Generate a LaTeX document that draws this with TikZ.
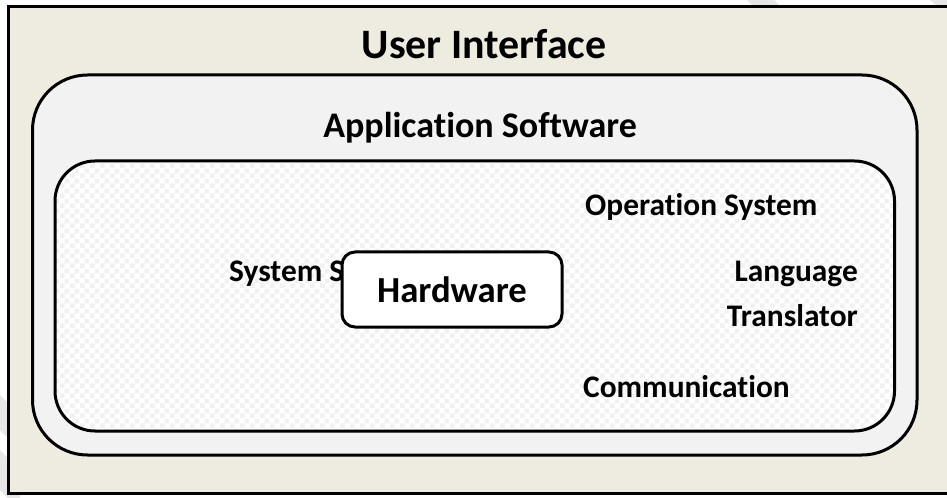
\documentclass[tikz,border=0pt]{standalone}
\usepackage{fontspec}
\setmainfont{Carlito}[Ligatures={NoCommon,NoContextual}]
\usetikzlibrary{patterns}

% faint checkerboard used inside the system-software panel
\pgfdeclarepatternformonly{softchecker}{\pgfpointorigin}{\pgfpoint{10bp}{10bp}}{\pgfpoint{10bp}{10bp}}{%
  \pgfpathrectangle{\pgfpointorigin}{\pgfpoint{5bp}{5bp}}%
  \pgfpathrectangle{\pgfpoint{5bp}{5bp}}{\pgfpoint{5bp}{5bp}}%
  \pgfusepath{fill}}

\definecolor{tanbg}{HTML}{EEEBE0}
\definecolor{panelgray}{HTML}{F2F2F2}
\definecolor{checkgray}{HTML}{F1F1F1}
\definecolor{markgray}{HTML}{E6E6E6}

\tikzset{
  frame/.style={draw=black, line width=3bp},
  lblbig/.style={inner sep=0pt, font=\bfseries\fontsize{41.9bp}{48bp}\selectfont},
  lblmid/.style={inner sep=0pt, font=\bfseries\fontsize{36bp}{42bp}\selectfont},
  lblsmall/.style={inner sep=0pt, font=\bfseries\fontsize{31.4bp}{36bp}\selectfont},
  hwbox/.style={frame, fill=white, rounded corners=13bp, minimum width=220bp,
    minimum height=75bp, inner sep=0pt, font=\bfseries\fontsize{36.7bp}{42bp}\selectfont},
}

\begin{document}
\begin{tikzpicture}[x=1bp,y=-1bp]
  \useasboundingbox (0,0) rectangle (947,498);
  \clip (0,0) rectangle (947,498);
  \fill[white] (0,0) rectangle (947,498);

  % faint diagonal bands showing in the white margin
  \fill[markgray] (745,-2) -- (772,-2) -- (800,26) -- (773,26) -- cycle;
  \fill[markgray] (928,-2) -- (960,-2) -- (960,30) -- cycle;
  \fill[markgray] (-10,385) -- (-10,420) -- (20,450) -- (20,415) -- cycle;
  \fill[markgray] (-10,440) -- (-10,480) -- (20,510) -- (20,470) -- cycle;

  % outer user-interface layer
  \draw[frame, line width=3.3bp, fill=tanbg] (8.3,6.7) rectangle (965,493.3);

  % application-software layer
  \draw[frame, fill=panelgray, rounded corners=55bp] (32.5,75) rectangle (917,455);

  % system-software layer
  \fill[white, rounded corners=40bp] (55,161) rectangle (894.5,431);
  \fill[pattern=softchecker, pattern color=checkgray, rounded corners=40bp]
    (55,161) rectangle (894.5,431);
  \draw[frame, rounded corners=40bp] (55,161) rectangle (894.5,431);

  % labels
  \node[lblbig, anchor=base] (ui) at (484,59) {User Interface};
  \node[lblmid, anchor=base east] (appsw) at (637,138) {Application Software};
  \node[lblsmall, anchor=base west] (syssw) at (229,282) {System Software};
  \node[lblsmall, anchor=base west] (opsys) at (585,216) {Operation System};
  \node[lblsmall, anchor=base east] (lang) at (858,282) {Language};
  \node[lblsmall, anchor=base east] (transl) at (858,327) {Translator};
  \node[lblsmall, anchor=base west] (comm) at (583,397) {Communication};

  % hardware core, drawn over part of the system-software label
  \node[hwbox] (hw) at (452,289.5) {Hardware};
\end{tikzpicture}
\end{document}
